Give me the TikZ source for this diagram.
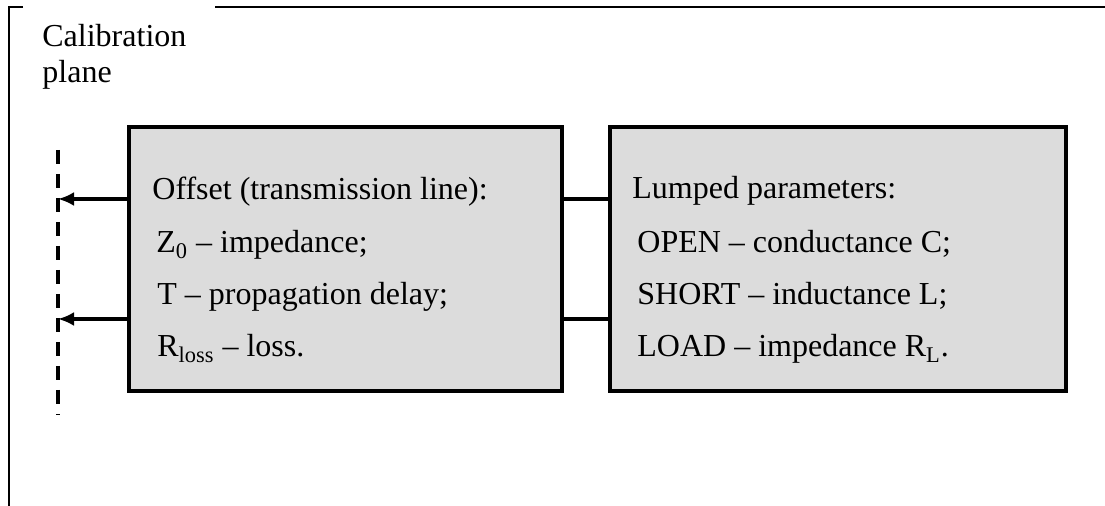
\documentclass[tikz,border=0pt]{standalone}
\usepackage{fontspec}
\setmainfont{Liberation Serif}
\usetikzlibrary{arrows.meta}
\definecolor{boxgray}{RGB}{220,220,220}

\begin{document}
\begin{tikzpicture}[x=0.5pt, y=-0.5pt, font=\fontsize{16}{18}\selectfont,
  block/.style={rectangle, draw, line width=2pt, fill=boxgray, inner sep=0pt},
  txt/.style={anchor=base west, inner sep=0pt},
  link/.style={line width=1.6pt},
  planeline/.style={line width=1.6pt, dash pattern=on 7pt off 5pt}]
        \useasboundingbox (0,0) rectangle (1105,506);
        % frame
        \draw[line width=1pt] (23,7) -- (9,7) -- (9,506);
        \draw[line width=1.2pt] (215,7) -- (1105,7);
        \node[txt] (caltitle) at (42,47) {Calibration};
        \node[txt] (calplane) at (42,83) {plane};
        % calibration plane
        \coordinate (planetop) at (58,150);
        \coordinate (planebot) at (58,415);
        \draw[planeline] (planetop) -- (planebot);
        \coordinate (in1) at (58,199);
        \coordinate (in2) at (58,319);
        % boxes
        \node[block, minimum width=216.5pt, minimum height=132pt] (offset) at (345.5,259) {};
        \node[block, minimum width=228pt, minimum height=132pt] (lumped) at (838,259) {};
        \node[txt] (offtitle) at (152,200) {Offset (transmission line):};
        \node[txt] (offz) at (156,253) {Z\textsubscript{0} -- impedance;};
        \node[txt] (offt) at (157,305) {T -- propagation delay;};
        \node[txt] (offr) at (157,357) {R\textsubscript{loss} -- loss.};
        \node[txt] (lumtitle) at (632,199) {Lumped parameters:};
        \node[txt] (lumopen) at (637,253) {OPEN -- conductance C;};
        \node[txt] (lumshort) at (637,305) {SHORT -- inductance L;};
        \node[txt] (lumload) at (637,357) {LOAD -- impedance R\textsubscript{L}.};
        % connectors
        \draw[link, -{Latex[length=8pt,width=7pt]}] (offset.west |- in1) -- (in1);
        \draw[link, -{Latex[length=8pt,width=7pt]}] (offset.west |- in2) -- (in2);
        \draw[link] (offset.east |- in1) -- (lumped.west |- in1);
        \draw[link] (offset.east |- in2) -- (lumped.west |- in2);
      \end{tikzpicture}
\end{document}
